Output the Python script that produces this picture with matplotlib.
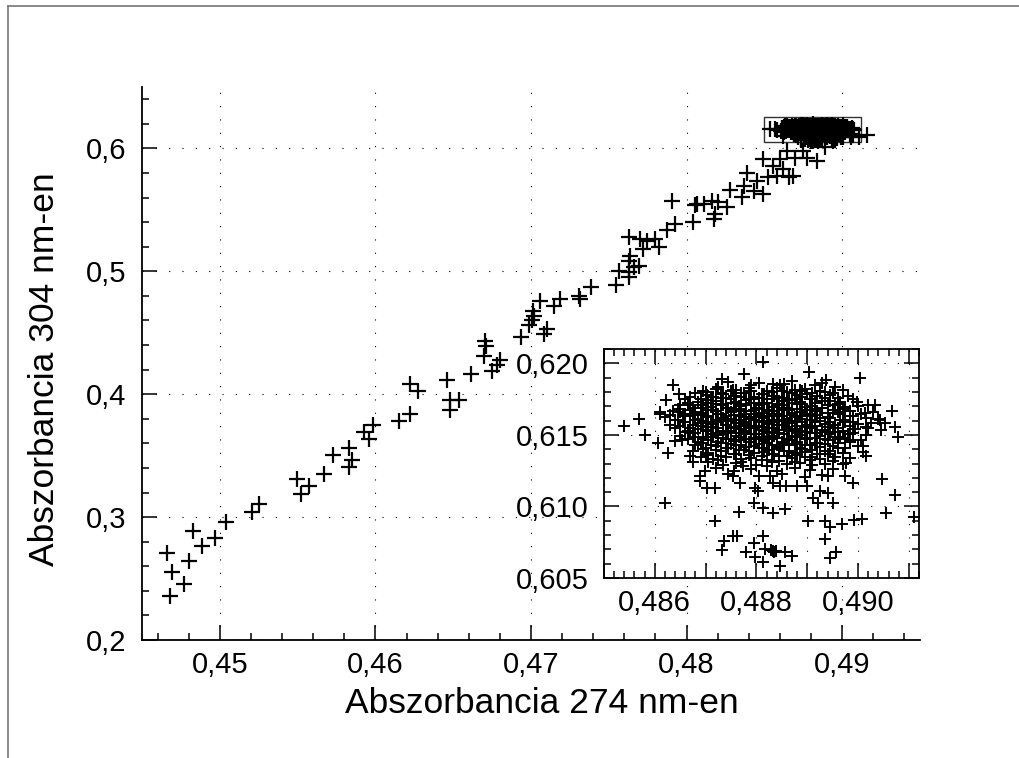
import matplotlib
matplotlib.use("Agg")
import matplotlib.pyplot as plt
from matplotlib.patches import Rectangle
from matplotlib.ticker import MultipleLocator, FuncFormatter

plt.rcParams["font.family"] = ["Liberation Sans", "DejaVu Sans"]

# ---- adatok: a nyomvonal (kezdeti szakasz) ----
trail_x = [0.44658, 0.44694, 0.44683, 0.44773, 0.44805, 0.44827, 0.44887, 0.44966, 0.45037, 0.45208,
           0.45251, 0.45497, 0.45523, 0.45576, 0.45668, 0.45728, 0.45833, 0.45850, 0.45833, 0.45925,
           0.45983, 0.45957, 0.46150, 0.46220, 0.46220, 0.46272, 0.46460, 0.46482, 0.46478, 0.46535,
           0.46615, 0.46707, 0.46713, 0.46696, 0.46750, 0.46803, 0.46782, 0.46936, 0.46985, 0.47006,
           0.47017, 0.47013, 0.47060, 0.47081, 0.47103, 0.47145, 0.47188, 0.47306, 0.47317, 0.47385,
           0.47548, 0.47563, 0.47633, 0.47627, 0.47659, 0.47633, 0.47638, 0.47691, 0.47633, 0.47702,
           0.47745, 0.47798, 0.47820, 0.47723, 0.47873, 0.47927, 0.47905, 0.48040, 0.48066, 0.48055,
           0.48109, 0.48163, 0.48205, 0.48259, 0.48184, 0.48173, 0.48280, 0.48355, 0.48366, 0.48388,
           0.48430, 0.48452, 0.48494, 0.48494, 0.48526, 0.48558, 0.48580, 0.48601, 0.48622, 0.48655,
           0.48687, 0.48644, 0.48697, 0.48751, 0.48773, 0.48837, 0.48890, 0.48944, 0.49008, 0.49158]
trail_y = [0.2709, 0.2555, 0.2357, 0.2455, 0.2644, 0.2885, 0.2764, 0.2826, 0.2959, 0.3043,
           0.3110, 0.3308, 0.3192, 0.3253, 0.3354, 0.3509, 0.3565, 0.3462, 0.3408, 0.3692,
           0.3747, 0.3633, 0.3781, 0.3836, 0.4085, 0.4025, 0.4118, 0.3950, 0.3874, 0.3950,
           0.4161, 0.4432, 0.4396, 0.4315, 0.4193, 0.4275, 0.4234, 0.4464, 0.4567, 0.4605,
           0.4640, 0.4681, 0.4762, 0.4486, 0.4532, 0.4721, 0.4776, 0.4803, 0.4776, 0.4876,
           0.4892, 0.5000, 0.4952, 0.4992, 0.5038, 0.5087, 0.5128, 0.5046, 0.5282, 0.5263,
           0.5249, 0.5263, 0.5195, 0.5182, 0.5336, 0.5385, 0.5569, 0.5398, 0.5547, 0.5542,
           0.5547, 0.5575, 0.5561, 0.5526, 0.5466, 0.5426, 0.5661, 0.5601, 0.5696, 0.5804,
           0.5656, 0.5737, 0.5629, 0.5913, 0.5764, 0.5858, 0.5777, 0.5913, 0.5832, 0.5764,
           0.5777, 0.5980, 0.5926, 0.5980, 0.5926, 0.5899, 0.6010, 0.6064, 0.6091, 0.6113]

# ---- a stacionárius felhő szélső pontjai ----
outer_x = [0.48813, 0.48904, 0.48776, 0.48733, 0.48936, 0.49003, 0.48635, 0.48648, 0.48623, 0.48611,
           0.48569, 0.48539, 0.48580, 0.48607, 0.48626, 0.49033, 0.49066, 0.49053, 0.49072, 0.49079,
           0.49048, 0.49072, 0.49056, 0.49110, 0.48620, 0.48718, 0.48766, 0.48736, 0.48733, 0.48754,
           0.48761, 0.48780, 0.48795, 0.48797, 0.48813, 0.48816, 0.48833, 0.48838, 0.48828, 0.48835,
           0.48846, 0.48871, 0.48856, 0.48812, 0.48956, 0.48934, 0.48902, 0.48934, 0.48944, 0.48969,
           0.48993, 0.48856, 0.48833, 0.48813, 0.48795, 0.48803, 0.48797, 0.48921, 0.48912, 0.48951,
           0.48940, 0.48925, 0.48990, 0.48941, 0.48900, 0.48879, 0.48859, 0.48846, 0.48833, 0.48826,
           0.48820, 0.48774, 0.48767, 0.48753, 0.48718, 0.48702, 0.48689, 0.48689, 0.48698, 0.48675,
           0.48669, 0.48639, 0.48653, 0.48610, 0.48649, 0.48669, 0.48702, 0.48721, 0.48754, 0.48833,
           0.48846, 0.48885, 0.48944, 0.48971, 0.48997, 0.49013, 0.49043, 0.49016, 0.49010, 0.49016,
           0.48977, 0.48984]
outer_y = [0.62008, 0.61939, 0.61927, 0.61893, 0.61881, 0.61900, 0.61846, 0.61789, 0.61742, 0.61662,
           0.61609, 0.61562, 0.61500, 0.61442, 0.61373, 0.61708, 0.61669, 0.61585, 0.61553, 0.61488,
           0.61193, 0.61077, 0.60957, 0.60923, 0.61027, 0.60900, 0.60962, 0.60761, 0.60699, 0.60796,
           0.60796, 0.60680, 0.60745, 0.60645, 0.60796, 0.60703, 0.60692, 0.60688, 0.60698, 0.60683,
           0.60581, 0.60657, 0.60685, 0.60615, 0.60680, 0.60772, 0.60900, 0.60900, 0.60853, 0.60876,
           0.60904, 0.60980, 0.60957, 0.60992, 0.61027, 0.61107, 0.61130, 0.61027, 0.61061, 0.61027,
           0.61096, 0.61107, 0.61161, 0.61211, 0.61142, 0.61142, 0.61142, 0.61142, 0.61165, 0.61211,
           0.61281, 0.61281, 0.61165, 0.61211, 0.61130, 0.61130, 0.61177, 0.61216, 0.61246, 0.61308,
           0.61350, 0.61454, 0.61465, 0.61645, 0.61662, 0.61708, 0.61777, 0.61823, 0.61812, 0.61858,
           0.61846, 0.61812, 0.61777, 0.61812, 0.61731, 0.61650, 0.61604, 0.61558, 0.61419, 0.61350,
           0.61304, 0.61465]

# ---- a felhő sűrű magja (soronként olvasva) ----
core_x = [
    0.48745, 0.48790, 0.48805, 0.48855, 0.48870, 0.48915, 0.48930,
    0.48695, 0.48725, 0.48760, 0.48785, 0.48820, 0.48840, 0.48875, 0.48895, 0.48925, 0.48955,
    0.48680, 0.48710, 0.48735, 0.48755, 0.48775, 0.48795, 0.48815, 0.48835, 0.48860, 0.48880,
    0.48900, 0.48920, 0.48950, 0.48980,
    0.48660, 0.48685, 0.48705, 0.48720, 0.48740, 0.48760, 0.48780, 0.48795, 0.48810, 0.48830,
    0.48850, 0.48865, 0.48885, 0.48905, 0.48930, 0.48945, 0.48965, 0.48990,
    0.48650, 0.48675, 0.48695, 0.48710, 0.48730, 0.48745, 0.48765, 0.48780, 0.48800, 0.48815,
    0.48830, 0.48845, 0.48860, 0.48880, 0.48895, 0.48910, 0.48930, 0.48955, 0.48975, 0.49000, 0.49020,
    0.48635, 0.48660, 0.48680, 0.48695, 0.48715, 0.48730, 0.48750, 0.48765, 0.48780, 0.48795,
    0.48810, 0.48825, 0.48840, 0.48855, 0.48870, 0.48885, 0.48900, 0.48920, 0.48940, 0.48960,
    0.48985, 0.49005, 0.49030,
    0.48620, 0.48645, 0.48670, 0.48685, 0.48700, 0.48720, 0.48735, 0.48750, 0.48770, 0.48785,
    0.48800, 0.48815, 0.48830, 0.48845, 0.48860, 0.48875, 0.48890, 0.48910, 0.48925, 0.48945,
    0.48970, 0.48990, 0.49015, 0.49040,
    0.48630, 0.48655, 0.48675, 0.48690, 0.48710, 0.48725, 0.48740, 0.48760, 0.48775, 0.48790,
    0.48805, 0.48820, 0.48835, 0.48850, 0.48865, 0.48880, 0.48900, 0.48915, 0.48935, 0.48955,
    0.48975, 0.49000, 0.49025,
    0.48640, 0.48665, 0.48685, 0.48700, 0.48715, 0.48735, 0.48750, 0.48765, 0.48780, 0.48795,
    0.48810, 0.48825, 0.48840, 0.48860, 0.48875, 0.48890, 0.48910, 0.48930, 0.48950, 0.48970,
    0.48995, 0.49020, 0.49045,
    0.48650, 0.48670, 0.48695, 0.48710, 0.48725, 0.48745, 0.48760, 0.48775, 0.48790, 0.48805,
    0.48820, 0.48835, 0.48855, 0.48870, 0.48885, 0.48905, 0.48925, 0.48945, 0.48965, 0.48990, 0.49015,
    0.48665, 0.48685, 0.48705, 0.48725, 0.48740, 0.48755, 0.48770, 0.48785, 0.48800, 0.48815,
    0.48830, 0.48850, 0.48865, 0.48880, 0.48900, 0.48920, 0.48940, 0.48960, 0.48985, 0.49005,
    0.48680, 0.48700, 0.48720, 0.48740, 0.48760, 0.48780, 0.48795, 0.48810, 0.48830, 0.48845,
    0.48865, 0.48885, 0.48905, 0.48925, 0.48950, 0.48975, 0.49000,
    0.48675, 0.48705, 0.48730, 0.48755, 0.48775, 0.48795, 0.48815, 0.48835, 0.48855, 0.48875,
    0.48895, 0.48920, 0.48945, 0.48970, 0.49010,
    0.48690, 0.48715, 0.48740, 0.48770, 0.48790, 0.48820, 0.48845, 0.48870, 0.48895, 0.48925,
    0.48955, 0.48985,
    0.48705, 0.48735, 0.48760, 0.48800, 0.48830, 0.48860, 0.48885, 0.48910, 0.48935, 0.48970,
    0.48720, 0.48755, 0.48790, 0.48840, 0.48875, 0.48905, 0.48950,
    0.48745, 0.48805, 0.48850, 0.48895, 0.48930, 0.48975,
]
core_y = [
    0.61870, 0.61848, 0.61865, 0.61854, 0.61875, 0.61850, 0.61862,
    0.61808, 0.61832, 0.61815, 0.61826, 0.61805, 0.61830, 0.61817, 0.61823, 0.61809, 0.61835,
    0.61795, 0.61768, 0.61786, 0.61774, 0.61792, 0.61765, 0.61788, 0.61771, 0.61797, 0.61776,
    0.61783, 0.61769, 0.61790, 0.61772,
    0.61752, 0.61729, 0.61745, 0.61734, 0.61755, 0.61728, 0.61741, 0.61748, 0.61725, 0.61753,
    0.61737, 0.61747, 0.61731, 0.61751, 0.61736, 0.61740, 0.61727, 0.61749,
    0.61706, 0.61688, 0.61712, 0.61693, 0.61715, 0.61690, 0.61703, 0.61709, 0.61686, 0.61713,
    0.61697, 0.61708, 0.61691, 0.61714, 0.61696, 0.61700, 0.61687, 0.61710, 0.61694, 0.61705, 0.61711,
    0.61668, 0.61645, 0.61662, 0.61650, 0.61673, 0.61648, 0.61660, 0.61667, 0.61646, 0.61671,
    0.61655, 0.61665, 0.61649, 0.61672, 0.61656, 0.61661, 0.61647, 0.61669, 0.61653, 0.61663,
    0.61670, 0.61649, 0.61658,
    0.61625, 0.61607, 0.61630, 0.61612, 0.61628, 0.61605, 0.61621, 0.61614, 0.61633, 0.61609,
    0.61626, 0.61617, 0.61604, 0.61631, 0.61611, 0.61623, 0.61608, 0.61629, 0.61615, 0.61620,
    0.61606, 0.61632, 0.61618, 0.61610,
    0.61572, 0.61590, 0.61566, 0.61584, 0.61575, 0.61593, 0.61568, 0.61586, 0.61579, 0.61565,
    0.61591, 0.61574, 0.61588, 0.61569, 0.61582, 0.61594, 0.61571, 0.61587, 0.61577, 0.61567,
    0.61589, 0.61576, 0.61584,
    0.61548, 0.61527, 0.61542, 0.61533, 0.61552, 0.61529, 0.61545, 0.61538, 0.61525, 0.61550,
    0.61535, 0.61547, 0.61531, 0.61544, 0.61539, 0.61526, 0.61551, 0.61534, 0.61546, 0.61530,
    0.61541, 0.61549, 0.61536,
    0.61493, 0.61511, 0.61488, 0.61506, 0.61497, 0.61514, 0.61490, 0.61503, 0.61509, 0.61486,
    0.61512, 0.61495, 0.61507, 0.61489, 0.61501, 0.61513, 0.61492, 0.61505, 0.61487, 0.61510, 0.61498,
    0.61470, 0.61452, 0.61466, 0.61448, 0.61473, 0.61455, 0.61462, 0.61447, 0.61469, 0.61458,
    0.61471, 0.61450, 0.61464, 0.61453, 0.61468, 0.61446, 0.61461, 0.61472, 0.61451, 0.61463,
    0.61428, 0.61411, 0.61425, 0.61407, 0.61431, 0.61414, 0.61422, 0.61405, 0.61429, 0.61417,
    0.61426, 0.61409, 0.61432, 0.61413, 0.61420, 0.61406, 0.61424,
    0.61388, 0.61372, 0.61385, 0.61369, 0.61391, 0.61376, 0.61383, 0.61366, 0.61389, 0.61374,
    0.61380, 0.61368, 0.61386, 0.61371, 0.61378,
    0.61345, 0.61330, 0.61348, 0.61333, 0.61341, 0.61327, 0.61350, 0.61336, 0.61343, 0.61329,
    0.61347, 0.61338,
    0.61307, 0.61291, 0.61303, 0.61288, 0.61309, 0.61295, 0.61305, 0.61290, 0.61300, 0.61294,
    0.61266, 0.61251, 0.61262, 0.61249, 0.61268, 0.61255, 0.61260,
    0.61224, 0.61212, 0.61226, 0.61209, 0.61220, 0.61215,
]

# ---- a mag közbülső sorai ----
core2_x = [
    0.48700, 0.48730, 0.48750, 0.48770, 0.48790, 0.48810, 0.48830, 0.48850, 0.48870, 0.48890,
    0.48910, 0.48935,
    0.48670, 0.48690, 0.48715, 0.48730, 0.48750, 0.48770, 0.48785, 0.48805, 0.48820, 0.48840,
    0.48855, 0.48875, 0.48890, 0.48910, 0.48935, 0.48960,
    0.48665, 0.48690, 0.48700, 0.48720, 0.48735, 0.48755, 0.48770, 0.48790, 0.48805, 0.48820,
    0.48840, 0.48855, 0.48870, 0.48890, 0.48915, 0.48940, 0.48960,
    0.48645, 0.48670, 0.48690, 0.48705, 0.48720, 0.48740, 0.48755, 0.48770, 0.48790, 0.48805,
    0.48820, 0.48835, 0.48850, 0.48865, 0.48880, 0.48895, 0.48915, 0.48930, 0.48950, 0.48970,
    0.48630, 0.48655, 0.48675, 0.48690, 0.48705, 0.48725, 0.48740, 0.48755, 0.48775, 0.48790,
    0.48805, 0.48820, 0.48835, 0.48850, 0.48870, 0.48885, 0.48905, 0.48920, 0.48940, 0.48965, 0.48985,
    0.48640, 0.48660, 0.48680, 0.48695, 0.48715, 0.48730, 0.48745, 0.48765, 0.48780, 0.48795,
    0.48810, 0.48825, 0.48840, 0.48855, 0.48870, 0.48890, 0.48905, 0.48925, 0.48945, 0.48965, 0.48990,
    0.48650, 0.48670, 0.48690, 0.48705, 0.48720, 0.48740, 0.48755, 0.48770, 0.48785, 0.48800,
    0.48815, 0.48830, 0.48845, 0.48860, 0.48880, 0.48895, 0.48915, 0.48940, 0.48960, 0.48985,
    0.48660, 0.48680, 0.48700, 0.48720, 0.48735, 0.48750, 0.48765, 0.48780, 0.48800, 0.48815,
    0.48830, 0.48845, 0.48865, 0.48880, 0.48900, 0.48920, 0.48940, 0.48960, 0.48980,
    0.48675, 0.48695, 0.48715, 0.48735, 0.48750, 0.48765, 0.48780, 0.48795, 0.48810, 0.48825,
    0.48840, 0.48860, 0.48875, 0.48895, 0.48915, 0.48935, 0.48955, 0.48975,
    0.48690, 0.48710, 0.48730, 0.48750, 0.48770, 0.48790, 0.48805, 0.48820, 0.48840, 0.48855,
    0.48875, 0.48895, 0.48915, 0.48935, 0.48960,
    0.48695, 0.48720, 0.48745, 0.48765, 0.48785, 0.48805, 0.48825, 0.48845, 0.48865, 0.48890,
    0.48910, 0.48935, 0.48960,
    0.48700, 0.48730, 0.48760, 0.48785, 0.48810, 0.48830, 0.48860, 0.48880, 0.48910, 0.48940,
    0.48725, 0.48770, 0.48810, 0.48845, 0.48875, 0.48905, 0.48950,
]
core2_y = [
    0.61802, 0.61791, 0.61806, 0.61795, 0.61809, 0.61788, 0.61799, 0.61804, 0.61793, 0.61807,
    0.61790, 0.61801,
    0.61762, 0.61751, 0.61764, 0.61755, 0.61748, 0.61766, 0.61753, 0.61760, 0.61749, 0.61763,
    0.61757, 0.61750, 0.61765, 0.61754, 0.61761, 0.61758,
    0.61722, 0.61711, 0.61724, 0.61716, 0.61709, 0.61726, 0.61713, 0.61720, 0.61708, 0.61723,
    0.61715, 0.61710, 0.61725, 0.61714, 0.61721, 0.61712, 0.61718,
    0.61683, 0.61672, 0.61685, 0.61676, 0.61669, 0.61687, 0.61674, 0.61681, 0.61668, 0.61684,
    0.61677, 0.61670, 0.61686, 0.61675, 0.61682, 0.61671, 0.61679, 0.61688, 0.61673, 0.61680,
    0.61642, 0.61631, 0.61645, 0.61636, 0.61629, 0.61647, 0.61634, 0.61641, 0.61628, 0.61644,
    0.61637, 0.61630, 0.61646, 0.61635, 0.61640, 0.61632, 0.61643, 0.61638, 0.61627, 0.61645, 0.61633,
    0.61602, 0.61591, 0.61605, 0.61596, 0.61589, 0.61607, 0.61594, 0.61601, 0.61588, 0.61604,
    0.61597, 0.61590, 0.61606, 0.61595, 0.61600, 0.61592, 0.61603, 0.61598, 0.61587, 0.61605, 0.61593,
    0.61562, 0.61551, 0.61565, 0.61556, 0.61549, 0.61567, 0.61554, 0.61561, 0.61548, 0.61564,
    0.61557, 0.61550, 0.61566, 0.61555, 0.61560, 0.61552, 0.61563, 0.61558, 0.61547, 0.61565,
    0.61522, 0.61511, 0.61525, 0.61516, 0.61509, 0.61527, 0.61514, 0.61521, 0.61508, 0.61524,
    0.61517, 0.61510, 0.61526, 0.61515, 0.61520, 0.61512, 0.61523, 0.61518, 0.61507,
    0.61482, 0.61471, 0.61485, 0.61476, 0.61469, 0.61487, 0.61474, 0.61481, 0.61468, 0.61484,
    0.61477, 0.61470, 0.61486, 0.61475, 0.61480, 0.61472, 0.61483, 0.61478,
    0.61442, 0.61431, 0.61445, 0.61436, 0.61429, 0.61447, 0.61434, 0.61441, 0.61428, 0.61444,
    0.61437, 0.61430, 0.61446, 0.61435, 0.61440,
    0.61402, 0.61391, 0.61405, 0.61396, 0.61389, 0.61407, 0.61394, 0.61401, 0.61388, 0.61404,
    0.61397, 0.61390, 0.61406,
    0.61362, 0.61351, 0.61365, 0.61356, 0.61349, 0.61367, 0.61354, 0.61361, 0.61348, 0.61364,
    0.61322, 0.61311, 0.61325, 0.61316, 0.61309, 0.61327, 0.61314,
]

all_x = trail_x + outer_x + core_x + core2_x
all_y = trail_y + outer_y + core_y + core2_y
assert len(all_x) == len(all_y)


def comma_fmt(decimals, skip_odd_step=None):
    def f(v, pos):
        if skip_odd_step is not None:
            k = round(v / skip_odd_step)
            if k % 2:
                return ""
        return f"{v:.{decimals}f}".replace(".", ",")
    return FuncFormatter(f)


fig = plt.figure(figsize=(10.19, 7.58), dpi=100)

# keret a kép körül
fig.add_artist(plt.Line2D([8 / 1019, 8 / 1019], [0, 1 - 6 / 758], transform=fig.transFigure,
                          color="#777777", lw=1.2))
fig.add_artist(plt.Line2D([8 / 1019, 1], [1 - 6 / 758, 1 - 6 / 758], transform=fig.transFigure,
                          color="#777777", lw=1.2))

ax = fig.add_axes([142 / 1019, 1 - 640 / 758, (920 - 142) / 1019, (640 - 87) / 758])
ax.plot(all_x, all_y, "+", color="black", ms=12, mew=1.6, zorder=3)
ax.set_xlim(0.445, 0.495)
ax.set_ylim(0.2, 0.65)
ax.xaxis.set_major_locator(MultipleLocator(0.01))
ax.xaxis.set_minor_locator(MultipleLocator(0.002))
ax.yaxis.set_major_locator(MultipleLocator(0.1))
ax.yaxis.set_minor_locator(MultipleLocator(0.02))
ax.xaxis.set_major_formatter(comma_fmt(2))
ax.yaxis.set_major_formatter(comma_fmt(1))
for s in ("top", "right"):
    ax.spines[s].set_visible(False)
for s in ("left", "bottom"):
    ax.spines[s].set_linewidth(1.3)
ax.tick_params(which="both", direction="in", top=False, right=False, width=1.1)
ax.tick_params(which="major", length=11, labelsize=21)
ax.tick_params(which="minor", length=5)
ax.tick_params(axis="x", which="major", pad=8)
ax.tick_params(axis="y", which="major", pad=11)
ax.grid(True, which="major", color="black", lw=0.8, linestyle=(0, (1, 11)))
ax.set_xlabel("Abszorbancia 274 nm-en", fontsize=25.5)
ax.set_ylabel("Abszorbancia 304 nm-en", fontsize=25.5)
ax.xaxis.set_label_coords(0.514, -0.085)
ax.yaxis.set_label_coords(-0.104, 0.49)
ax.add_patch(Rectangle((0.4850, 0.6049), 0.00624, 0.0203, fill=False,
                       edgecolor="#333333", lw=1.0, zorder=2))

# nagyított betét
ins = fig.add_axes([604 / 1019, 1 - 578 / 758, (919 - 604) / 1019, (578 - 349) / 758])
ins.plot(all_x, all_y, "+", color="black", ms=8.5, mew=1.4, zorder=3)
ins.set_xlim(0.485, 0.4912)
ins.set_ylim(0.605, 0.621)
ins.xaxis.set_major_locator(MultipleLocator(0.001))
ins.xaxis.set_minor_locator(MultipleLocator(0.0002))
ins.yaxis.set_major_locator(MultipleLocator(0.005))
ins.yaxis.set_minor_locator(MultipleLocator(0.001))
ins.xaxis.set_major_formatter(comma_fmt(3, skip_odd_step=0.001))
ins.yaxis.set_major_formatter(comma_fmt(3))
for s in ins.spines.values():
    s.set_linewidth(1.3)
ins.tick_params(which="both", direction="in", top=True, right=True, width=1.1)
ins.tick_params(which="major", length=11, labelsize=21)
ins.tick_params(which="minor", length=5)
ins.tick_params(axis="x", which="major", pad=8)
ins.tick_params(axis="y", which="major", pad=11)
ins.grid(True, which="major", color="black", lw=0.8, linestyle=(0, (1, 11)))

fig.savefig("out.png", dpi=100)
